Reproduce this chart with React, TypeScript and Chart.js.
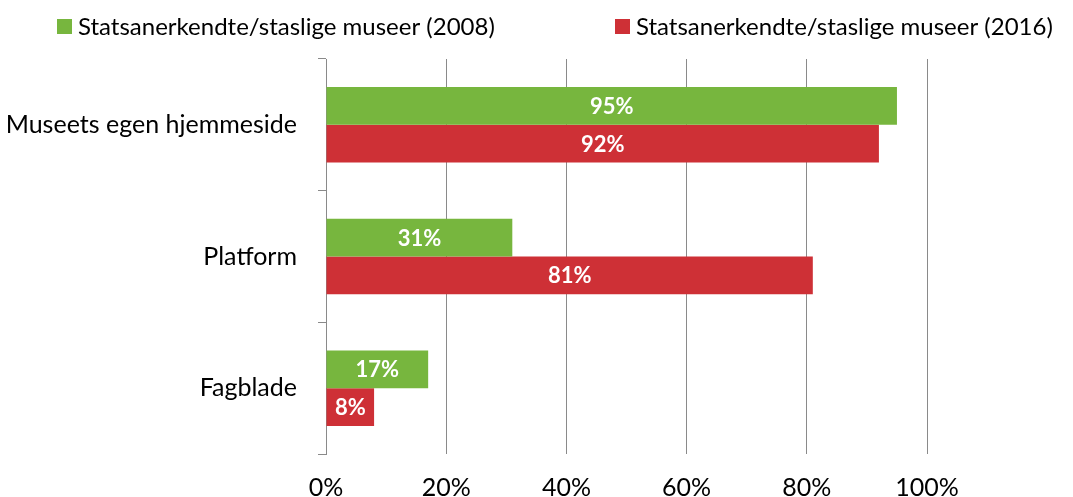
import React, { useEffect, useRef } from 'react';
import { Chart, registerables } from 'chart.js';

Chart.register(...registerables);

const categories = ['Museets egen hjemmeside', 'Platform', 'Fagblade'];
const series2008 = [95, 31, 17];
const series2016 = [92, 81, 8];
const seriesLabels = [
  'Statsanerkendte/staslige museer (2008)',
  'Statsanerkendte/staslige museer (2016)',
];
const seriesColors = ['#77b63e', '#ce3036'];
const xTickValues = [0, 20, 40, 60, 80, 100];

const FONT = 'Lato, "Open Sans", sans-serif';
const GRID = '#8a8a8a';

const barLabelPlugin = {
  id: 'barLabels',
  afterDatasetsDraw(chart: any) {
    const ctx = chart.ctx;
    ctx.save();
    ctx.font = `bold 22px ${FONT}`;
    ctx.fillStyle = '#ffffff';
    ctx.textAlign = 'center';
    ctx.textBaseline = 'middle';
    chart.data.datasets.forEach((ds: any, di: number) => {
      const meta = chart.getDatasetMeta(di);
      meta.data.forEach((el: any, i: number) => {
        const cx = (el.x + el.base) / 2;
        ctx.fillText(`${ds.data[i]}%`, cx, el.y + 1);
      });
    });
    ctx.restore();
  },
};

const legendPlugin = {
  id: 'customLegend',
  afterDraw(chart: any, _args: any, opts: any) {
    const ctx = chart.ctx;
    ctx.save();
    ctx.font = `24px ${FONT}`;
    ctx.textBaseline = 'middle';
    ctx.textAlign = 'left';
    chart.data.datasets.forEach((ds: any, i: number) => {
      const x = opts.positions[i];
      const y = opts.y;
      ctx.fillStyle = ds.backgroundColor;
      ctx.fillRect(x, y - 7.5, 15, 15);
      ctx.fillStyle = '#000000';
      ctx.fillText(ds.label, x + 21, y + 1);
    });
    ctx.restore();
  },
};

export default function App() {
  const ref = useRef<HTMLCanvasElement | null>(null);

  useEffect(() => {
    document.body.style.margin = '0';
    if (!ref.current) return;
    const chart = new Chart(ref.current, {
      type: 'bar',
      data: {
        labels: categories,
        datasets: [
          { label: seriesLabels[0], data: series2008, backgroundColor: seriesColors[0] },
          { label: seriesLabels[1], data: series2016, backgroundColor: seriesColors[1] },
        ],
      },
      options: {
        indexAxis: 'y',
        animation: false,
        responsive: true,
        maintainAspectRatio: false,
        layout: { padding: { top: 59, right: 146, left: 0, bottom: 0 } },
        datasets: {
          bar: { categoryPercentage: 0.574, barPercentage: 1, borderWidth: 0 },
        },
        plugins: {
          legend: { display: false },
          tooltip: { enabled: false },
          customLegend: { positions: [57, 615], y: 26.5 },
        } as any,
        scales: {
          x: {
            min: 0,
            max: 100,
            afterBuildTicks(scale: any) {
              scale.ticks = xTickValues.map((v) => ({ value: v }));
            },
            afterFit(scale: any) {
              scale.height = 43;
            },
            grid: { color: GRID, drawTicks: false, lineWidth: 1 },
            border: { display: false },
            ticks: {
              padding: 19,
              color: '#000000',
              font: { family: FONT, size: 25 },
              callback: (v: any) => `${v}%`,
            },
          },
          y: {
            afterFit(scale: any) {
              scale.width = 326;
            },
            grid: {
              offset: true,
              drawOnChartArea: false,
              drawTicks: true,
              tickLength: 8,
              color: GRID,
            },
            border: { display: true, color: GRID, width: 1 },
            ticks: {
              padding: 21,
              color: '#000000',
              font: { family: FONT, size: 25 },
            },
          },
        },
      },
      plugins: [barLabelPlugin, legendPlugin],
    });
    return () => chart.destroy();
  }, []);

  return (
    <div style={{ position: 'relative', width: '1073px', height: '497px' }}>
      <canvas ref={ref} />
    </div>
  );
}
